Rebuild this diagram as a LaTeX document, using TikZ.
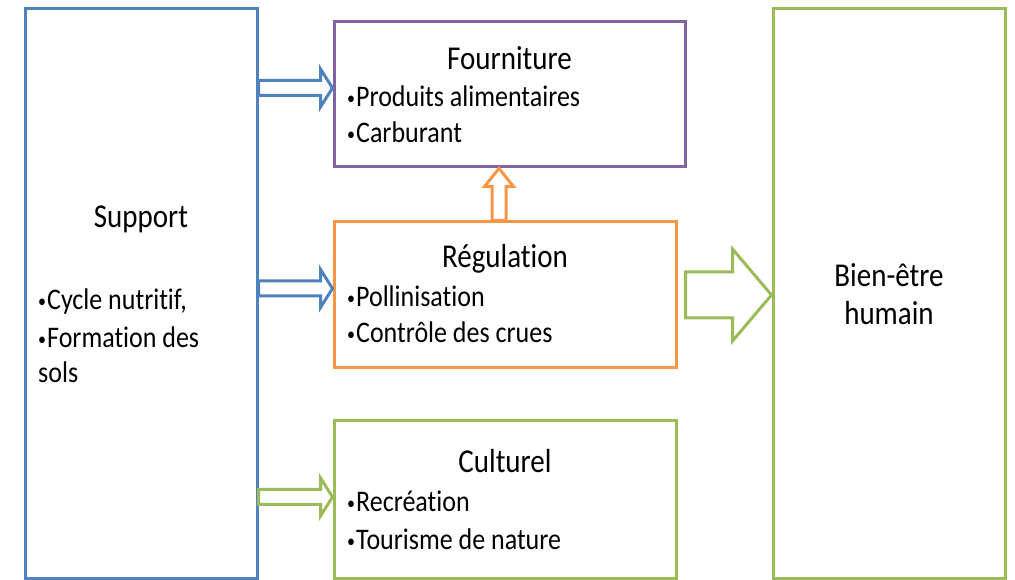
\documentclass[tikz,border=0pt]{standalone}
\usepackage{fontspec}
\setmainfont{Carlito}[Ligatures=NoCommon]
\usetikzlibrary{calc}
\definecolor{steelblue}{RGB}{79, 129, 189}
\definecolor{amethyst}{RGB}{128, 100, 162}
\definecolor{tangerine}{RGB}{247, 150, 70}
\definecolor{olivine}{RGB}{155, 187, 89}
\newcommand{\titlefont}{\fontsize{29}{34}\selectfont}
\newcommand{\itemfont}{\fontsize{26}{31}\selectfont}
\newcommand{\bul}{\raisebox{2.5pt}{\fontsize{16}{16}\selectfont •}\kern1pt}

\begin{document}
\begin{tikzpicture}[x=1pt, y=1pt,
    box/.style 2 args={draw, line width=3pt, inner sep=0pt, minimum width=#1, minimum height=#2},
    title/.style={anchor=base, inner sep=0pt, font=\titlefont, yscale=1.15, transform shape},
    item/.style={anchor=base west, inner sep=0pt, font=\itemfont, yscale=1.15, transform shape},
    hollow/.style n args={3}{draw, line width=3pt, line join=miter, to path={
        let \p1=($(\tikztotarget)!#3!(\tikztostart)$) in
        ($(\tikztostart)!#1!90:(\tikztotarget)$) -- ($(\p1)!#1!90:(\tikztotarget)$)
        -- ($(\p1)!#2!90:(\tikztotarget)$) -- (\tikztotarget)
        -- ($(\p1)!#2!-90:(\tikztotarget)$) -- ($(\p1)!#1!-90:(\tikztotarget)$)
        -- ($(\tikztostart)!#1!-90:(\tikztotarget)$) -- cycle}}]
    \useasboundingbox (0,0) rectangle (1015,580);
    % boxes
    \node[box={232pt}{570pt}, draw=steelblue] (sup)  at (141.0, 286.0) {};
    \node[box={351pt}{145pt}, draw=amethyst]  (four) at (509.5, 485.5) {};
    \node[box={342pt}{146pt}, draw=tangerine] (reg)  at (505.0, 285.0) {};
    \node[box={342pt}{158pt}, draw=olivine]   (cult) at (505.0,  80.0) {};
    \node[box={232pt}{570pt}, draw=olivine]   (well) at (889.0, 286.0) {};
    % texts
    \node[title] (supT)   at (sup.north  |- 0,352) {Support};
    \node[item]  (supA)   at ( 38, 270) {\bul Cycle nutritif,};
    \node[item]  (supB)   at ( 38, 232) {\bul Formation des};
    \node[item]  (supC)   at ( 38, 197) {sols};
    \node[title] (fourT)  at (four.north |- 0,510) {Fourniture};
    \node[item]  (fourA)  at (347, 473) {\bul Produits alimentaires};
    \node[item]  (fourB)  at (347, 437) {\bul Carburant};
    \node[title] (regT)   at (reg.north  |- 0,312) {Régulation};
    \node[item]  (regA)   at (347, 273) {\bul Pollinisation};
    \node[item]  (regB)   at (347, 237) {\bul Contrôle des crues};
    \node[title] (cultT)  at (cult.north |- 0,107) {Culturel};
    \node[item]  (cultA)  at (347,  68) {\bul Recréation};
    \node[item]  (cultB)  at (347,  30) {\bul Tourisme de nature};
    \node[title] (wellT)  at (well.north |- 0,293) {Bien-être};
    \node[title] (wellB)  at (well.north |- 0,255) {humain};
    % arrows
    \draw[hollow={7.5pt}{19pt}{12pt}, steelblue] ($(sup.east |- four.west)+(0,6.5)$) to ($(four.west)+(0,6.5)$);
    \draw[hollow={7.5pt}{19pt}{12pt}, steelblue] ($(sup.east |- reg.west)+(0,6.5)$)  to ($(reg.west)+(0,6.5)$);
    \draw[hollow={7.5pt}{19pt}{12pt}, olivine]   ($(sup.east |- cult.west)+(0,3)$)   to ($(cult.west)+(0,3)$);
    \draw[hollow={7pt}{14.5pt}{18pt}, tangerine] ($(reg.north)+(-6,0)$) to ($(reg.north |- four.south)+(-6,0)$);
    \draw[hollow={23pt}{46pt}{39pt}, olivine]    ($(reg.east)+(8,0)$)   to (reg.east -| well.west);
\end{tikzpicture}
\end{document}
